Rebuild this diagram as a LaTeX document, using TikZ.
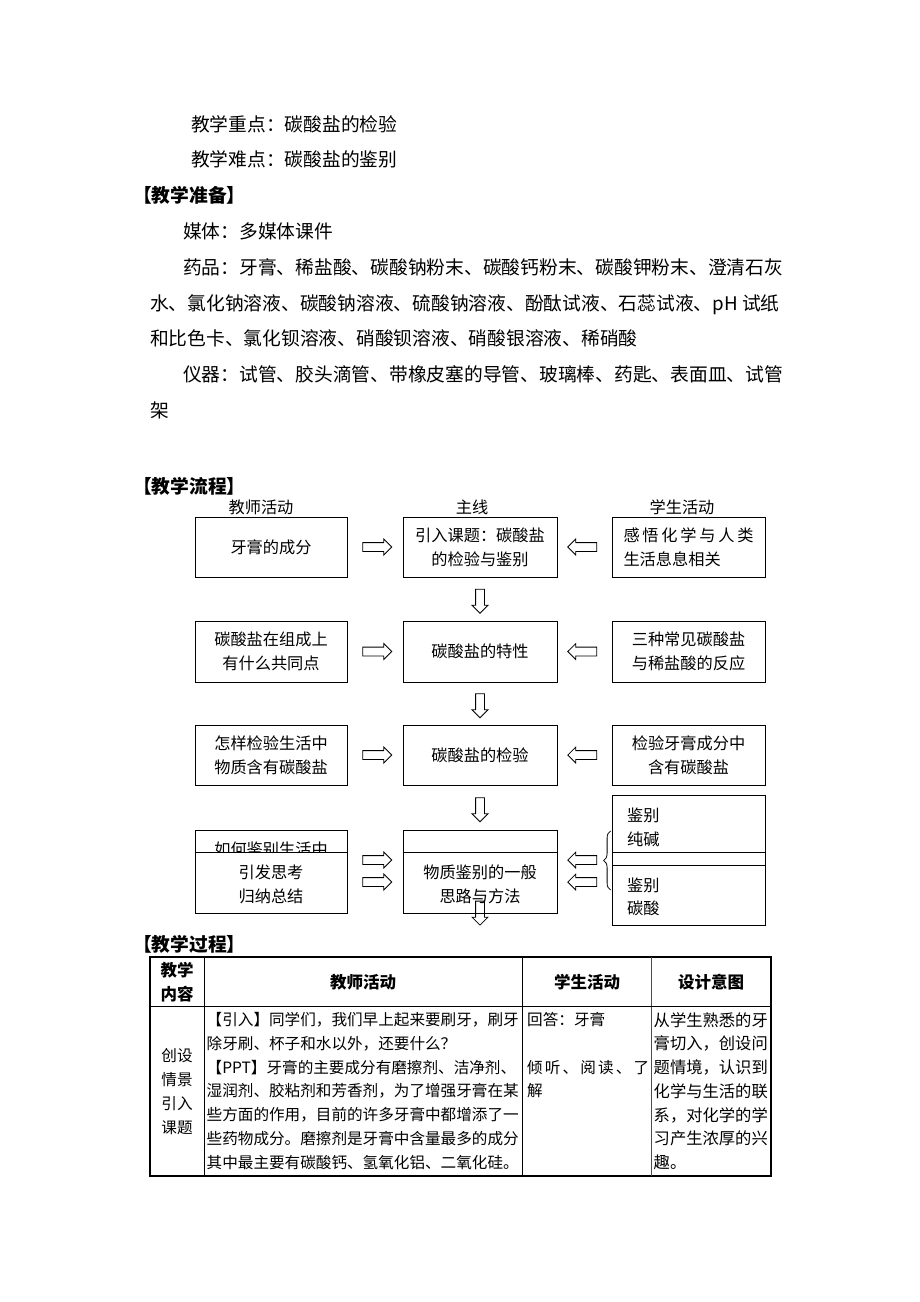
\documentclass[tikz,border=0pt]{standalone}
\usepackage{fontspec}
\setmainfont{Noto Sans CJK SC}
\usetikzlibrary{shapes.arrows,calc,decorations.pathreplacing}
\begin{document}
\begin{tikzpicture}[x=1pt,y=-1pt,
  body/.style={inner sep=0pt, anchor=west, font=\fontsize{18.75}{22}\selectfont, text height=16.5pt, text depth=2.25pt},
  sechead/.style={body, font=\fontsize{18.75}{22}\selectfont\bfseries},
  box/.style={draw, line width=0.8pt, inner sep=0pt, align=center, font=\fontsize{16.2}{24}\selectfont},
  ftxt/.style={inner sep=0pt, font=\fontsize{16.2}{24}\selectfont, text height=14.3pt, text depth=1.9pt},
  ttxt/.style={inner sep=0pt, anchor=west, font=\fontsize{15.6}{20}\selectfont, text height=13.7pt, text depth=1.9pt},
  dtxt/.style={ttxt, font=\fontsize{16.3}{20}\selectfont, text height=14.3pt, text depth=1.9pt},
  thead/.style={inner sep=0pt, font=\fontsize{16.5}{20}\selectfont\bfseries, text height=14.5pt, text depth=2pt},
  barR/.style={single arrow, draw, line width=0.8pt, inner sep=4pt, minimum height=29pt, single arrow head extend=3.5pt},
  barL/.style={barR, shape border rotate=180},
  barD/.style={barR, shape border rotate=270, minimum height=24pt}
]
\useasboundingbox (0,0) rectangle (920,1302);

% ---------- top text ----------
\node[body] (t1) at (191,124) {教学重点：碳酸盐的检验};
\node[body] (t2) at (191,159) {教学难点：碳酸盐的鉴别};
\node[sechead] (h1) at (133,195) {【教学准备】};
\node[body] (t3) at (183,231) {媒体：多媒体课件};
\node[body] (t4) at (183,267) {药品：牙膏、稀盐酸、碳酸钠粉末、碳酸钙粉末、碳酸钾粉末、澄清石灰};
\node[body] (t5) at (150,303) {水、氯化钠溶液、碳酸钠溶液、硫酸钠溶液、酚酞试液、石蕊试液、pH 试纸};
\node[body] (t6) at (150,338) {和比色卡、氯化钡溶液、硝酸钡溶液、硝酸银溶液、稀硝酸};
\node[body] (t7) at (183,374) {仪器：试管、胶头滴管、带橡皮塞的导管、玻璃棒、药匙、表面皿、试管};
\node[body] (t8) at (150,410) {架};
\node[sechead] (h2) at (133,486) {【教学流程】};

% ---------- flow chart ----------
\node[ftxt] (c1) at (261,507) {教师活动};
\node[ftxt] (c2) at (472,507) {主线};
\node[ftxt] (c3) at (682,507) {学生活动};

\node[box, minimum width=152pt, minimum height=60pt] (l1) at (271,547) {牙膏的成分};
\node[box, minimum width=154pt, minimum height=60pt] (m1) at (480,547) {引入课题：碳酸盐\\的检验与鉴别};
\node[box, minimum width=153pt, minimum height=60pt, align=left, text width=130pt] (r1) at (688.5,547)
  {\makebox[130pt][s]{感\hfil 悟\hfil 化\hfil 学\hfil 与\hfil 人\hfil 类}\\生活息息相关};

\node[box, minimum width=152pt, minimum height=61pt] (l2) at (271,651.5) {碳酸盐在组成上\\有什么共同点};
\node[box, minimum width=154pt, minimum height=61pt] (m2) at (480,651.5) {碳酸盐的特性};
\node[box, minimum width=153pt, minimum height=61pt] (r2) at (688.5,651.5) {三种常见碳酸盐\\与稀盐酸的反应};

\node[box, minimum width=152pt, minimum height=60pt] (l3) at (271,755) {怎样检验生活中\\物质含有碳酸盐};
\node[box, minimum width=154pt, minimum height=60pt] (m3) at (480,755) {碳酸盐的检验};
\node[box, minimum width=153pt, minimum height=60pt] (r3) at (688.5,755) {检验牙膏成分中\\含有碳酸盐};

% row 4
\node[box, minimum width=152pt, minimum height=83pt] (l4) at (271,871.5) {};
\node[box, minimum width=154pt, minimum height=83pt] (m4) at (480,871.5) {};
\draw[line width=0.8pt] ($(l4.north west)+(0,22.7)$) -- ($(l4.north east)+(0,22.7)$);
\draw[line width=0.8pt] ($(m4.north west)+(0,22.7)$) -- ($(m4.north east)+(0,22.7)$);
\begin{scope}
  \clip (196,831) rectangle (346,852.2);
  \node[ftxt] (l4c) at (271,849) {如何鉴别生活中};
\end{scope}
\node[ftxt] (l4a) at (271,872) {引发思考};
\node[ftxt] (l4b) at (271,896) {归纳总结};
\node[ftxt] (m4a) at (480,872) {物质鉴别的一般};
\node[ftxt] (m4b) at (480,896) {思路与方法};

\node[box, minimum width=153pt, minimum height=70pt] (r4a) at (688.5,830) {};
\node[box, minimum width=153pt, minimum height=72.3pt] (r4b) at (688.5,888.85) {};
\node[ftxt, anchor=west] (r4a1) at (627,815) {鉴别};
\node[ftxt, anchor=west] (r4a2) at (627,839) {纯碱};
\node[ftxt, anchor=west] (r4b1) at (627,885) {鉴别};
\node[ftxt, anchor=west] (r4b2) at (627,908) {碳酸};
\draw[line width=0.8pt, decorate, decoration={brace, amplitude=7pt}]
  ($(r4a.west)+(-1,60)$) coordinate (bb) -- ($(r4a.west)+(-1,1)$) coordinate (bt);

% block arrows
\node[barR] (a1) at ($(l1.east)!0.5!(m1.west)$) {};
\node[barL] (b1) at ($(m1.east)!0.5!(r1.west)$) {};
\node[barD] (d1) at ($(m1.south)!0.5!(m2.north)$) {};
\node[barR] (a2) at ($(l2.east)!0.5!(m2.west)$) {};
\node[barL] (b2) at ($(m2.east)!0.5!(r2.west)$) {};
\node[barD] (d2) at ($(m2.south)!0.5!(m3.north)$) {};
\node[barR] (a3) at ($(l3.east)!0.5!(m3.west)$) {};
\node[barL] (b3) at ($(m3.east)!0.5!(r3.west)$) {};
\node[barD] (d3) at ($(m3.south)!0.5!(m4.north)$) {};
\node[barR] (a4) at ($($(l4.east)!0.5!(m4.west)$)+(0,-11.5)$) {};
\node[barR] (a5) at ($($(l4.east)!0.5!(m4.west)$)+(0,10.5)$) {};
\node[barL] (b4) at ($($(m4.east)!0.5!(r4a.west |- m4.east)$)+(0,-11.5)$) {};
\node[barL] (b5) at ($($(m4.east)!0.5!(r4a.west |- m4.east)$)+(0,10.5)$) {};
\node[barD] (d4) at ($(m4.south)+(0,-2.5)$) {};

% ---------- table ----------
\node[sechead] (h3) at (133,944) {【教学过程】};
\draw[line width=1.2pt] (150,957) rectangle (771,1176);
\draw[line width=0.8pt] (204,957) -- (204,1176);
\draw[line width=0.8pt] (522.5,957) -- (522.5,1176);
\draw[line width=1pt, black!70] (651.5,957) -- (651.5,1176);
\draw[line width=0.8pt] (150,1006) -- (771,1006);

\node[thead] (th1) at (177,970) {教学};
\node[thead] (th2) at (177,994) {内容};
\node[thead] (th3) at (363,982) {教师活动};
\node[thead] (th4) at (587,982) {学生活动};
\node[thead] (th5) at (711,982) {设计意图};

\node[ttxt, anchor=center] (k1) at (177,1056) {创设};
\node[ttxt, anchor=center] (k2) at (177,1080) {情景};
\node[ttxt, anchor=center] (k3) at (177,1104) {引入};
\node[ttxt, anchor=center] (k4) at (177,1128) {课题};

\node[ttxt] (e1) at (206.5,1020) {【引入】同学们，我们早上起来要刷牙，刷牙};
\node[ttxt] (e2) at (206.5,1043.7) {除牙刷、杯子和水以外，还要什么？};
\node[ttxt] (e3) at (206.5,1067.4) {【PPT】牙膏的主要成分有磨擦剂、洁净剂、};
\node[ttxt] (e4) at (206.5,1091) {湿润剂、胶粘剂和芳香剂，为了增强牙膏在某};
\node[ttxt] (e5) at (206.5,1114.8) {些方面的作用，目前的许多牙膏中都增添了一};
\node[ttxt] (e6) at (206.5,1138.5) {些药物成分。磨擦剂是牙膏中含量最多的成分};
\node[ttxt] (e7) at (206.5,1162.2) {其中最主要有碳酸钙、氢氧化铝、二氧化硅。};

\node[ttxt] (s1) at (527,1020) {回答：牙膏};
\node[ttxt] (s2) at (527,1067.4) {\makebox[122pt][s]{倾\hfil 听\hfil 、\hfil 阅\hfil 读\hfil 、\hfil 了}};
\node[ttxt] (s3) at (527,1091) {解};

\node[dtxt] (g1) at (653.5,1020) {从学生熟悉的牙};
\node[dtxt] (g2) at (653.5,1043.7) {膏切入，创设问};
\node[dtxt] (g3) at (653.5,1067.4) {题情境，认识到};
\node[dtxt] (g4) at (653.5,1091) {化学与生活的联};
\node[dtxt] (g5) at (653.5,1114.8) {系，对化学的学};
\node[dtxt] (g6) at (653.5,1138.5) {习产生浓厚的兴};
\node[dtxt] (g7) at (653.5,1162.2) {趣。};
\end{tikzpicture}
\end{document}
